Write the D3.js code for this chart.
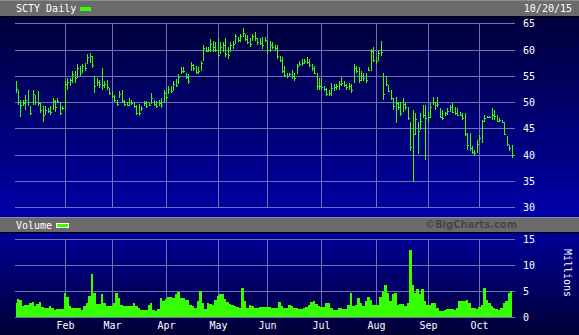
<!DOCTYPE html>
<html>
<head>
<meta charset="utf-8">
<script src="https://cdn.jsdelivr.net/npm/d3@7"></script>
<style>
  body { margin: 0; background: #000; }
  svg { display: block; }
  text { font-family: "DejaVu Sans Mono", monospace; }
</style>
</head>
<body>
<div id="chart"></div>
<script>
/* Data (SCTY daily, 2 Jan - 20 Oct 2015, one entry per trading day) */
const symbolLabel = "SCTY Daily";
const dateLabel = "10/20/15";
const monthLabels = ["Feb", "Mar", "Apr", "May", "Jun", "Jul", "Aug", "Sep", "Oct"];
const monthStart = [20, 39, 61, 82, 102, 124, 146, 167, 188]; // index of first trading day
const priceTicks = [30, 35, 40, 45, 50, 55, 60, 65];
const volumeTicks = [0, 5, 10, 15];

const highs = [
  54.0, 52.4, 50.4, 50.4, 51.4, 52.4, 49.2, 52.4, 51.4, 52.1, 49.8, 49.2, 49.2, 48.8, 49.2, 50.8, 50.4, 50.8, 50.1, 49.2,
  54.0, 54.6, 54.6, 55.9, 55.9, 57.2, 56.9, 57.2, 57.5, 59.1, 59.4, 58.8, 54.9, 54.6, 54.3, 56.5, 54.0, 54.3, 52.7,
  52.1, 51.4, 50.4, 52.1, 52.4, 50.4, 50.1, 50.8, 50.4, 50.1, 49.5, 49.6, 49.2, 50.2, 50.2, 49.9, 51.8, 50.5, 50.2, 50.5, 50.8, 52.4,
  52.1, 53.1, 53.1, 54.0, 54.4, 55.3, 56.6, 56.6, 55.6, 55.3, 57.6, 57.2, 56.9, 56.6, 57.9, 60.8, 60.4, 60.4, 62.0, 61.7, 61.4,
  62.1, 61.4, 61.4, 62.1, 60.4, 61.4, 61.7, 63.0, 62.4, 63.0, 64.0, 63.0, 62.7, 62.1, 63.0, 63.3, 62.1, 62.1, 62.4, 62.4,
  61.7, 61.7, 61.4, 60.8, 60.8, 58.8, 58.5, 56.9, 55.6, 55.6, 56.2, 55.6, 57.2, 57.9, 58.2, 58.2, 58.5, 58.2, 57.2, 56.9, 55.6, 54.6,
  54.6, 53.0, 52.7, 52.4, 53.7, 53.4, 53.4, 54.0, 54.7, 54.0, 53.4, 53.7, 53.4, 57.2, 56.9, 56.6, 56.0, 55.6, 55.6, 56.6, 60.1, 60.4,
  58.5, 59.8, 61.7, 55.6, 55.0, 53.2, 52.3, 50.7, 51.0, 50.1, 50.1, 50.7, 49.8, 49.1, 46.3, 48.5, 47.9, 46.3, 47.9, 49.4, 49.4,
  48.2, 49.8, 51.0, 50.1, 51.0, 48.8, 48.5, 48.2, 48.8, 49.4, 49.8, 49.1, 48.8, 48.2, 47.9, 47.9, 44.1, 44.1, 41.6, 41.0, 42.9,
  43.8, 46.6, 47.6, 47.3, 47.3, 48.8, 48.5, 47.6, 47.0, 46.6, 46.3, 43.5, 41.9, 41.9
];
const lows = [
  51.7, 49.5, 47.2, 49.2, 48.5, 49.2, 47.6, 49.5, 49.5, 49.2, 47.9, 46.3, 47.6, 47.9, 47.6, 48.5, 48.2, 49.8, 47.6, 48.5,
  48.5, 52.4, 53.0, 53.7, 53.7, 54.6, 54.9, 55.6, 55.9, 57.2, 57.5, 56.5, 51.7, 53.0, 52.7, 52.4, 52.7, 52.4, 51.4,
  50.8, 50.1, 49.2, 50.8, 49.8, 49.2, 49.2, 49.2, 49.5, 48.8, 47.6, 47.3, 48.3, 49.2, 48.9, 49.2, 49.6, 49.2, 48.9, 49.2, 48.9, 49.9,
  50.2, 51.5, 51.8, 52.1, 52.8, 53.4, 55.3, 55.6, 54.4, 53.4, 56.0, 56.0, 55.3, 55.3, 56.0, 57.9, 59.5, 59.5, 59.5, 59.5, 59.5,
  58.5, 59.2, 59.5, 58.5, 58.2, 59.5, 60.1, 61.1, 61.5, 61.4, 62.4, 61.7, 61.1, 60.4, 61.7, 61.7, 60.8, 60.8, 60.1, 61.4,
  59.2, 59.5, 60.1, 59.8, 58.2, 57.6, 55.6, 54.7, 54.6, 55.0, 54.4, 54.0, 55.3, 56.9, 56.9, 57.2, 57.2, 56.6, 56.0, 55.3, 52.4, 52.4,
  52.4, 52.1, 51.1, 51.1, 51.1, 52.1, 52.4, 52.4, 53.1, 52.8, 52.4, 52.4, 51.8, 53.7, 55.6, 53.7, 54.0, 54.0, 53.7, 56.0, 56.0, 57.6,
  57.2, 57.9, 58.8, 50.4, 53.1, 51.9, 50.4, 48.5, 46.0, 48.5, 47.3, 48.2, 48.5, 46.6, 40.7, 34.8, 43.8, 40.1, 44.8, 46.9, 39.1,
  46.0, 46.9, 49.4, 48.5, 49.1, 46.9, 46.6, 47.3, 47.6, 48.2, 47.9, 47.6, 47.3, 47.3, 46.6, 43.5, 41.0, 40.7, 40.1, 39.8, 40.4,
  42.3, 42.3, 46.3, 46.9, 46.9, 46.6, 46.6, 46.3, 46.2, 46.0, 43.8, 41.6, 40.7, 39.4
];
const closes = [
  52.5, 50.0, 49.5, 49.8, 50.5, 50.0, 48.0, 51.5, 50.0, 49.8, 48.5, 47.5, 48.5, 48.3, 48.2, 50.2, 49.0, 50.2, 48.0, 48.8,
  53.5, 53.8, 54.2, 55.3, 54.5, 56.5, 55.5, 56.8, 56.5, 58.5, 58.8, 57.0, 53.0, 53.8, 53.5, 53.2, 53.4, 52.8, 51.8,
  51.2, 50.5, 49.6, 51.5, 50.2, 49.6, 49.5, 50.0, 49.8, 49.2, 48.0, 48.0, 48.8, 49.8, 49.2, 49.5, 50.8, 49.6, 49.3, 49.8, 49.4, 51.8,
  51.0, 52.5, 52.2, 53.5, 53.2, 54.8, 56.0, 56.0, 54.8, 54.0, 57.0, 56.5, 55.8, 56.0, 57.5, 60.2, 59.8, 60.0, 61.0, 60.5, 60.0,
  59.0, 60.5, 60.8, 59.2, 59.0, 60.8, 61.0, 62.5, 61.8, 62.5, 63.2, 62.0, 61.5, 61.0, 62.5, 62.2, 61.5, 61.2, 60.8, 61.8,
  60.0, 60.8, 60.5, 60.2, 58.8, 58.0, 56.0, 55.2, 55.0, 55.3, 55.0, 54.6, 56.8, 57.3, 57.5, 57.8, 57.6, 57.0, 56.4, 55.6, 53.0, 53.0,
  52.8, 52.5, 51.6, 51.8, 52.6, 52.8, 53.0, 53.5, 53.6, 53.2, 52.8, 53.0, 52.4, 56.5, 56.0, 54.2, 55.0, 54.5, 54.2, 56.2, 59.7, 58.0,
  57.8, 59.3, 59.5, 51.5, 53.5, 52.2, 50.8, 49.3, 49.8, 49.0, 48.0, 49.7, 49.0, 47.0, 41.5, 44.0, 46.8, 44.5, 46.5, 47.5, 47.0,
  47.2, 49.0, 50.0, 49.5, 49.6, 47.2, 47.0, 48.0, 48.4, 49.0, 48.2, 48.0, 47.6, 47.5, 47.0, 44.0, 41.8, 41.2, 40.5, 40.4, 42.0,
  43.2, 46.5, 47.0, 47.1, 47.1, 47.5, 47.3, 46.5, 46.6, 46.2, 44.0, 42.0, 41.2, 40.0
];
// volume in millions of shares
const volumes = [
  2.6, 3.4, 3.2, 2.1, 2.3, 2.3, 2.6, 2.9, 2.0, 2.5, 2.8, 1.8, 1.6, 1.6, 2.1, 1.6, 1.3, 1.4, 1.4, 1.5,
  4.5, 3.9, 2.1, 1.6, 1.6, 1.6, 1.6, 1.3, 2.0, 2.6, 4.0, 8.2, 4.5, 2.5, 2.5, 4.3, 2.6, 2.1, 2.0,
  2.0, 2.6, 4.6, 3.6, 2.3, 2.0, 2.0, 2.0, 2.0, 2.7, 2.1, 1.6, 1.2, 1.2, 1.2, 2.3, 2.7, 1.3, 1.0, 1.5, 3.6, 3.0,
  3.4, 3.9, 3.8, 3.6, 4.3, 4.7, 3.6, 3.6, 3.2, 3.2, 2.3, 2.0, 1.6, 3.0, 4.9, 2.6, 1.5, 2.7, 2.5, 2.3, 3.3,
  4.0, 4.3, 4.3, 3.4, 2.8, 2.4, 2.3, 2.0, 1.8, 1.6, 5.6, 3.0, 1.6, 2.3, 2.0, 1.6, 1.6, 1.8, 1.8, 1.8,
  1.8, 1.8, 1.6, 1.6, 1.6, 2.8, 2.0, 1.6, 1.6, 2.3, 2.0, 1.7, 1.6, 1.4, 1.4, 1.6, 1.8, 2.2, 2.8, 3.0, 2.5, 2.0,
  1.8, 1.9, 2.6, 2.7, 1.6, 1.3, 1.2, 1.6, 1.6, 1.4, 1.4, 2.2, 4.6, 2.0, 2.3, 3.6, 2.6, 2.0, 3.0, 3.9, 3.3, 2.3,
  2.3, 2.3, 3.9, 4.9, 6.2, 4.5, 3.0, 4.3, 4.5, 2.3, 2.5, 2.5, 2.0, 2.6, 12.9, 6.2, 4.6, 5.3, 4.3, 5.3, 3.0,
  2.3, 2.3, 2.6, 2.6, 1.6, 1.0, 1.0, 1.3, 1.4, 1.4, 1.4, 1.3, 1.6, 3.0, 3.0, 3.0, 3.3, 2.6, 1.6, 1.6, 1.4,
  1.8, 2.3, 5.6, 3.3, 2.6, 2.0, 1.6, 1.4, 1.3, 1.6, 2.6, 3.0, 4.6, 4.9
];

/* Dimensions */
const width = 579;
const height = 335;
const plotLeft = 15;
const plotRight = 515;
const green = "#36ff00";
const gridColor = "#7070b4";

const days = highs.map((h, i) => ({
  i: i,
  high: h,
  low: lows[i],
  close: closes[i],
  volume: volumes[i]
}));

/* Scales */
const xScale = d3.scaleLinear()
  .domain([0, days.length - 1])
  .range([15.5, 511.5]);

const yPrice = d3.scaleLinear()
  .domain([30, 65])
  .range([207.4, 23.2]);

const yVolume = d3.scaleLinear()
  .domain([0, 15])
  .range([316.6, 239.4]);

const px = (i) => Math.round(xScale(i)) + 0.5;
const row = (y) => Math.round(y) + 0.5;

/* SVG container */
const svg = d3.select("#chart")
  .append("svg")
  .attr("width", width)
  .attr("height", height);

const defs = svg.append("defs");

const priceGrad = defs.append("linearGradient")
  .attr("id", "priceBg")
  .attr("x1", 0).attr("y1", 0).attr("x2", 0).attr("y2", 1);
priceGrad.append("stop").attr("offset", "0%").attr("stop-color", "#00003a");
priceGrad.append("stop").attr("offset", "100%").attr("stop-color", "#0000a8");

const volGrad = defs.append("linearGradient")
  .attr("id", "volBg")
  .attr("x1", 0).attr("y1", 0).attr("x2", 0).attr("y2", 1);
volGrad.append("stop").attr("offset", "0%").attr("stop-color", "#000098");
volGrad.append("stop").attr("offset", "100%").attr("stop-color", "#000036");

/* Panels and header bars */
svg.append("rect").attr("x", 0).attr("y", 0).attr("width", width).attr("height", 16).attr("fill", "#6b6b6b");
svg.append("rect").attr("x", 0).attr("y", 0).attr("width", width).attr("height", 1).attr("fill", "#8e8e8e");
svg.append("rect").attr("x", 0).attr("y", 16).attr("width", width).attr("height", 1).attr("fill", "#000");
svg.append("rect").attr("x", 0).attr("y", 17).attr("width", width).attr("height", 200).attr("fill", "url(#priceBg)");

svg.append("rect").attr("x", 0).attr("y", 217).attr("width", width).attr("height", 1).attr("fill", "#8e8e8e");
svg.append("rect").attr("x", 0).attr("y", 218).attr("width", width).attr("height", 14).attr("fill", "#6b6b6b");
svg.append("rect").attr("x", 0).attr("y", 232).attr("width", width).attr("height", 1).attr("fill", "#000");
svg.append("rect").attr("x", 0).attr("y", 233).attr("width", width).attr("height", height - 233).attr("fill", "url(#volBg)");

/* Header texts */
svg.append("text")
  .attr("x", 16)
  .attr("y", 12)
  .attr("fill", "#fff")
  .style("font-size", "10px")
  .text(symbolLabel);

svg.append("rect")
  .attr("x", 80).attr("y", 7).attr("width", 11).attr("height", 4)
  .attr("fill", green);

svg.append("text")
  .attr("x", 572)
  .attr("y", 12)
  .attr("text-anchor", "end")
  .attr("fill", "#fff")
  .style("font-size", "10px")
  .text(dateLabel);

svg.append("text")
  .attr("x", 16)
  .attr("y", 229)
  .attr("fill", "#fff")
  .style("font-size", "10px")
  .text("Volume");

svg.append("rect")
  .attr("x", 56.5).attr("y", 223.5).attr("width", 12).attr("height", 4)
  .attr("fill", green)
  .attr("stroke", "#fff");

svg.append("text")
  .attr("x", 425)
  .attr("y", 228)
  .attr("fill", "#474747")
  .style("font-family", "'DejaVu Sans', sans-serif")
  .style("font-weight", "bold")
  .style("font-size", "10px")
  .text("\u00a9BigCharts.com");

/* Grid: price panel */
const grid = svg.append("g")
  .attr("stroke", gridColor)
  .attr("stroke-width", 1)
  .attr("shape-rendering", "crispEdges");

grid.selectAll(".pgrid")
  .data(priceTicks)
  .enter()
  .append("line")
  .attr("x1", plotLeft)
  .attr("x2", plotRight)
  .attr("y1", (d) => row(yPrice(d)))
  .attr("y2", (d) => row(yPrice(d)));

grid.selectAll(".pvgrid")
  .data(monthStart)
  .enter()
  .append("line")
  .attr("x1", (d) => px(d))
  .attr("x2", (d) => px(d))
  .attr("y1", row(yPrice(65)))
  .attr("y2", row(yPrice(30)));

/* Grid: volume panel */
grid.selectAll(".vgrid")
  .data(volumeTicks)
  .enter()
  .append("line")
  .attr("x1", plotLeft)
  .attr("x2", plotRight)
  .attr("y1", (d) => row(yVolume(d)))
  .attr("y2", (d) => row(yVolume(d)));

grid.selectAll(".vvgrid")
  .data(monthStart)
  .enter()
  .append("line")
  .attr("x1", (d) => px(d))
  .attr("x2", (d) => px(d))
  .attr("y1", row(yVolume(15)))
  .attr("y2", row(yVolume(0)));

/* Price bars (high-low with close tick) */
const bars = svg.append("g")
  .attr("stroke", green)
  .attr("stroke-width", 1)
  .attr("shape-rendering", "crispEdges");

bars.selectAll(".bar")
  .data(days)
  .enter()
  .append("line")
  .attr("class", "bar")
  .attr("x1", (d) => px(d.i))
  .attr("x2", (d) => px(d.i))
  .attr("y1", (d) => Math.round(yPrice(d.high)))
  .attr("y2", (d) => Math.max(Math.round(yPrice(d.low)), Math.round(yPrice(d.high)) + 2));

bars.selectAll(".tick")
  .data(days)
  .enter()
  .append("line")
  .attr("class", "tick")
  .attr("x1", (d) => px(d.i))
  .attr("x2", (d) => px(d.i) + 1.5)
  .attr("y1", (d) => row(yPrice(d.close)))
  .attr("y2", (d) => row(yPrice(d.close)));

/* Volume area */
const volumeArea = d3.area()
  .x((d) => xScale(d.i))
  .y0(yVolume(0))
  .y1((d) => yVolume(d.volume))
  .curve(d3.curveStep);

svg.append("path")
  .datum(days)
  .attr("d", volumeArea)
  .attr("fill", green)
  .attr("shape-rendering", "crispEdges");

/* Right axis labels */
svg.selectAll(".plabel")
  .data(priceTicks)
  .enter()
  .append("text")
  .attr("x", 523)
  .attr("y", (d) => yPrice(d) + 4)
  .attr("fill", "#fff")
  .style("font-size", "10px")
  .text((d) => d);

svg.selectAll(".vlabel")
  .data(volumeTicks)
  .enter()
  .append("text")
  .attr("x", 523)
  .attr("y", (d) => yVolume(d) + 4)
  .attr("fill", "#fff")
  .style("font-size", "10px")
  .text((d) => d);

// Swap x/y for the rotated label
svg.append("text")
  .attr("transform", "translate(564,273) rotate(90)")
  .attr("text-anchor", "middle")
  .attr("fill", "#fff")
  .style("font-size", "10px")
  .text("Millions");

/* Month labels */
svg.selectAll(".mlabel")
  .data(monthStart)
  .enter()
  .append("text")
  .attr("x", (d) => px(d))
  .attr("y", 329)
  .attr("text-anchor", "middle")
  .attr("fill", "#fff")
  .style("font-size", "10px")
  .text((d, k) => monthLabels[k]);
</script>
</body>
</html>
